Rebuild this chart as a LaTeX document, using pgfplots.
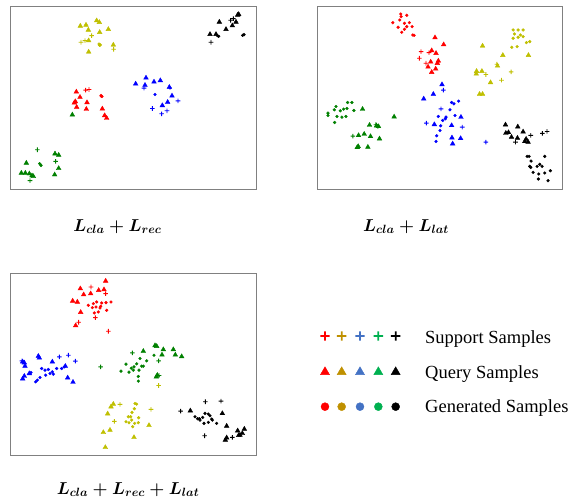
\documentclass[border=0pt]{standalone}
\usepackage{fontspec}
\usepackage{amsmath}
\usepackage{pgfplots}
\pgfplotsset{compat=1.18}
\newfontfamily\tnr{Liberation Serif}
\definecolor{cr}{HTML}{FF0000}
\definecolor{cy}{HTML}{BFBF00}
\definecolor{cb}{HTML}{0000FF}
\definecolor{cg}{HTML}{008000}
\definecolor{ck}{HTML}{000000}
\definecolor{lr}{HTML}{FF0000}
\definecolor{ly}{HTML}{BF9000}
\definecolor{lb}{HTML}{4472C4}
\definecolor{lg}{HTML}{00B050}
\pgfdeclareplotmark{fplus}{%
  \pgfpathrectangle{\pgfqpoint{-\pgfplotmarksize}{-0.19\pgfplotmarksize}}{\pgfqpoint{2\pgfplotmarksize}{0.38\pgfplotmarksize}}%
  \pgfpathrectangle{\pgfqpoint{-0.19\pgfplotmarksize}{-\pgfplotmarksize}}{\pgfqpoint{0.38\pgfplotmarksize}{2\pgfplotmarksize}}%
  \pgfusepathqfill}
\pgfplotsset{
 panel/.style={scale only axis, anchor=north west, y dir=reverse, xtick=\empty, ytick=\empty,
   axis line style={draw=black!50, line width=0.9bp}, clip=false},
 sup/.style={only marks, color=#1, mark=fplus, mark size=2.3bp, mark options={draw=none, fill=#1}},
 qry/.style={only marks, color=#1, mark=triangle*, mark size=2.7bp, mark options={draw=#1, fill=#1}},
 gen/.style={only marks, color=#1, mark=*, mark size=1.4bp, mark options={draw=#1, fill=#1}},
}
\begin{document}
\begin{tikzpicture}
\path[use as bounding box] (0,0) rectangle (573bp,-499bp);
% ---------------- Panel 1 ----------------
\begin{axis}[panel, at={(10bp,-6bp)}, width=246bp, height=183bp, xmin=30, xmax=768, ymin=18, ymax=568]
\addplot[qry=cy] coordinates {(241,78) (258,75) (265,90) (290,62) (298,67) (325,88) (299,97) (266,122) (340,135) (266,156)};
\addplot[sup=cy] coordinates {(275,107) (255,122) (243,127) (341,148)};
\addplot[gen=cy] coordinates {(297,132) (301,135) (299,136)};
\addplot[qry=ck] coordinates {(658,66) (630,103) (648,103) (678,88) (697,77) (708,66) (713,45) (716,43)};
\addplot[sup=ck] coordinates {(692,61) (700,56) (633,127)};
\addplot[gen=ck] coordinates {(652,107) (656,109) (728,106) (732,104)};
\addplot[qry=cr] coordinates {(229,276) (240,292) (226,305) (223,309) (261,308) (230,322) (259,328) (307,327) (314,347) (320,355)};
\addplot[sup=cr] coordinates {(257,271) (267,269)};
\addplot[gen=cr] coordinates {(303,287) (306,290) (304,289)};
\addplot[qry=cb] coordinates {(407,252) (438,234) (462,246) (481,242) (435,256) (508,262) (516,288) (503,307) (487,317)};
\addplot[sup=cb] coordinates {(432,265) (534,303) (457,326) (501,333) (485,342)};
\addplot[gen=cb] coordinates {(465,284) (510,264)};
\addplot[qry=cg] coordinates {(217,345) (79,490) (165,462) (176,466) (176,506) (164,525) (64,520) (76,520) (88,522) (96,528) (100,530)};
\addplot[sup=cg] coordinates {(112,450) (167,485) (90,543)};
\addplot[gen=cg] coordinates {(119,492) (123,497)};
\end{axis}
% ---------------- Panel 2 ----------------
\begin{axis}[panel, at={(317bp,-6bp)}, width=245bp, height=183bp, xmin=20, xmax=757, ymin=18, ymax=568]
\addplot[gen=cr] coordinates {(272,42) (290,46) (273,50) (269,60) (248,68) (283,70) (298,68) (264,82) (290,80) (306,80) (283,88) (275,97) (308,105) (312,106)};
\addplot[qry=cr] coordinates {(375,113) (401,134) (365,152) (378,160) (385,183) (382,190) (362,186) (354,201) (377,207) (365,217)};
\addplot[sup=cr] coordinates {(333,155) (328,175) (357,158) (348,190)};
\addplot[gen=cy] coordinates {(610,90) (625,90) (640,90) (632,105) (640,110) (625,112) (610,115) (660,125) (650,128) (606,142) (622,140) (614,102)};
\addplot[qry=cy] coordinates {(518,138) (579,166) (656,166) (563,198) (500,214) (516,214) (499,222) (542,248) (509,283) (518,283)};
\addplot[sup=cy] coordinates {(528,224) (604,216) (575,241) (561,193)};
\addplot[qry=cb] coordinates {(396,254) (370,283) (341,297) (453,352) (425,377) (373,374) (426,414) (452,416) (428,432)};
\addplot[sup=cb] coordinates {(400,271) (393,327) (349,370) (457,382) (528,427)};
\addplot[gen=cb] coordinates {(425,308) (446,304) (432,312) (420,330) (435,347) (408,352) (406,357) (385,350) (398,362) (392,378) (390,392) (380,408) (378,425)};
\addplot[gen=cg] coordinates {(77,320) (72,330) (90,333) (112,308) (125,308) (110,326) (100,328) (131,332) (53,340) (53,347) (80,350) (95,352) (107,350) (73,368)};
\addplot[qry=cg] coordinates {(157,328) (252,351) (178,376) (199,378) (205,380) (162,403) (145,407) (181,410) (208,417) (141,443) (144,440) (173,442)};
\addplot[sup=cg] coordinates {(197,375) (203,380) (128,409)};
\addplot[qry=ck] coordinates {(587,375) (624,381) (640,396) (588,400) (596,398) (605,412) (623,415) (649,418) (655,427) (645,425)};
\addplot[sup=ck] coordinates {(663,407) (698,401) (712,395) (617,427)};
\addplot[gen=ck] coordinates {(652,470) (658,470) (705,470) (664,484) (690,494) (682,500) (697,500) (670,518) (722,513) (663,503) (687,523) (705,520) (686,538) (715,543) (660,500)};
\end{axis}
% ---------------- Panel 3 ----------------
\begin{axis}[panel, at={(10bp,-273bp)}, width=246bp, height=182bp, xmin=30, xmax=768, ymin=38, ymax=585]
\addplot[qry=cr] coordinates {(317,62) (241,85) (251,103) (272,100) (296,90) (312,88) (218,122) (232,125) (242,156) (227,196)};
\addplot[sup=cr] coordinates {(273,80) (317,100) (236,186) (286,172) (325,213)};
\addplot[gen=cr] coordinates {(265,135) (280,130) (290,125) (305,128) (318,127) (333,125) (288,140) (300,143) (320,150) (295,155) (283,158) (302,138) (277,142)};
\addplot[qry=cb] coordinates {(115,288) (118,293) (68,305) (73,308) (75,318) (88,340) (73,348) (68,356) (157,305) (196,318) (203,353) (219,366)};
\addplot[sup=cb] coordinates {(66,302) (178,290) (205,285) (226,303)};
\addplot[gen=cb] coordinates {(125,325) (135,330) (145,328) (157,335) (170,325) (185,325) (193,320) (160,342) (150,340) (137,345) (120,352) (112,360) (107,365) (93,337)};
\addplot[qry=cg] coordinates {(430,273) (465,256) (470,258) (490,268) (520,268) (486,284) (526,284) (545,289) (469,350) (472,345)};
\addplot[sup=cg] coordinates {(302,320) (397,278) (476,302) (477,346)};
\addplot[gen=cg] coordinates {(363,333) (378,312) (387,336) (394,324) (402,320) (400,330) (417,330) (410,311) (420,295) (425,318) (430,318) (440,302) (415,349) (415,363) (462,285)};
\addplot[qry=cy] coordinates {(333,440) (340,432) (323,461) (330,510) (310,517) (402,532) (447,496) (316,562)};
\addplot[sup=cy] coordinates {(360,433) (453,448) (343,484) (476,376)};
\addplot[gen=cy] coordinates {(405,430) (410,432) (403,446) (396,457) (416,473) (392,470) (385,470) (395,480) (378,485) (387,488) (404,490) (398,500) (415,488)};
\addplot[qry=ck] coordinates {(571,452) (667,460) (680,498) (680,533) (676,540) (713,512) (720,525) (727,520) (733,507) (716,526)};
\addplot[sup=ck] coordinates {(542,453) (616,425) (663,423) (614,527) (697,532)};
\addplot[gen=ck] coordinates {(585,470) (598,476) (608,472) (615,460) (625,462) (630,467) (635,477) (600,480) (612,490) (625,487) (637,480) (650,490) (593,476)};
\end{axis}
% ---------------- Legend ----------------
\begin{axis}[scale only axis, anchor=north west, at={(300bp,-310bp)}, width=273bp, height=110bp,
  xmin=0, xmax=819, ymin=0, ymax=330, y dir=reverse, hide axis, clip=false]
\pgfplotsset{lsup/.style={only marks, color=#1, mark=fplus, mark size=4.7bp, mark options={draw=none, fill=#1, scale=1}},
  lqry/.style={only marks, color=#1, mark=triangle*, mark size=5.2bp, mark options={draw=#1, fill=#1}},
  lgen/.style={only marks, color=#1, mark=*, mark size=4bp, mark options={draw=#1, fill=#1}}}
\addplot[lsup=lr, mark size=4.7bp] coordinates {(75,78)};
\addplot[lsup=ly] coordinates {(125,78)};
\addplot[lsup=lb] coordinates {(180,78)};
\addplot[lsup=lg] coordinates {(235,78)};
\addplot[lsup=ck] coordinates {(287,78)};
\addplot[lqry=lr] coordinates {(75,186)};
\addplot[lqry=ly] coordinates {(125,186)};
\addplot[lqry=lb] coordinates {(180,186)};
\addplot[lqry=lg] coordinates {(235,186)};
\addplot[lqry=ck] coordinates {(287,186)};
\addplot[lgen=lr] coordinates {(75,290)};
\addplot[lgen=ly] coordinates {(125,290)};
\addplot[lgen=lb] coordinates {(180,290)};
\addplot[lgen=lg] coordinates {(235,290)};
\addplot[lgen=ck] coordinates {(287,290)};
\end{axis}
\begin{scope}[every node/.style={anchor=base west, inner sep=0pt, font=\tnr\fontsize{18.5bp}{22bp}\selectfont}]
\node at (425bp,-343.5bp) {Support Samples};
\node at (425bp,-378.5bp) {Query Samples};
\node at (425bp,-412.5bp) {Generated Samples};
\end{scope}
\begin{scope}[every node/.style={anchor=base, inner sep=0pt, font=\fontsize{17.5bp}{20bp}\selectfont}]
\node at (117.5bp,-231bp) {$\boldsymbol{L_{cla}+L_{rec}}$};
\node at (406bp,-231bp) {$\boldsymbol{L_{cla}+L_{lat}}$};
\node at (128bp,-494bp) {$\boldsymbol{L_{cla}+L_{rec}+L_{lat}}$};
\end{scope}
\end{tikzpicture}
\end{document}
